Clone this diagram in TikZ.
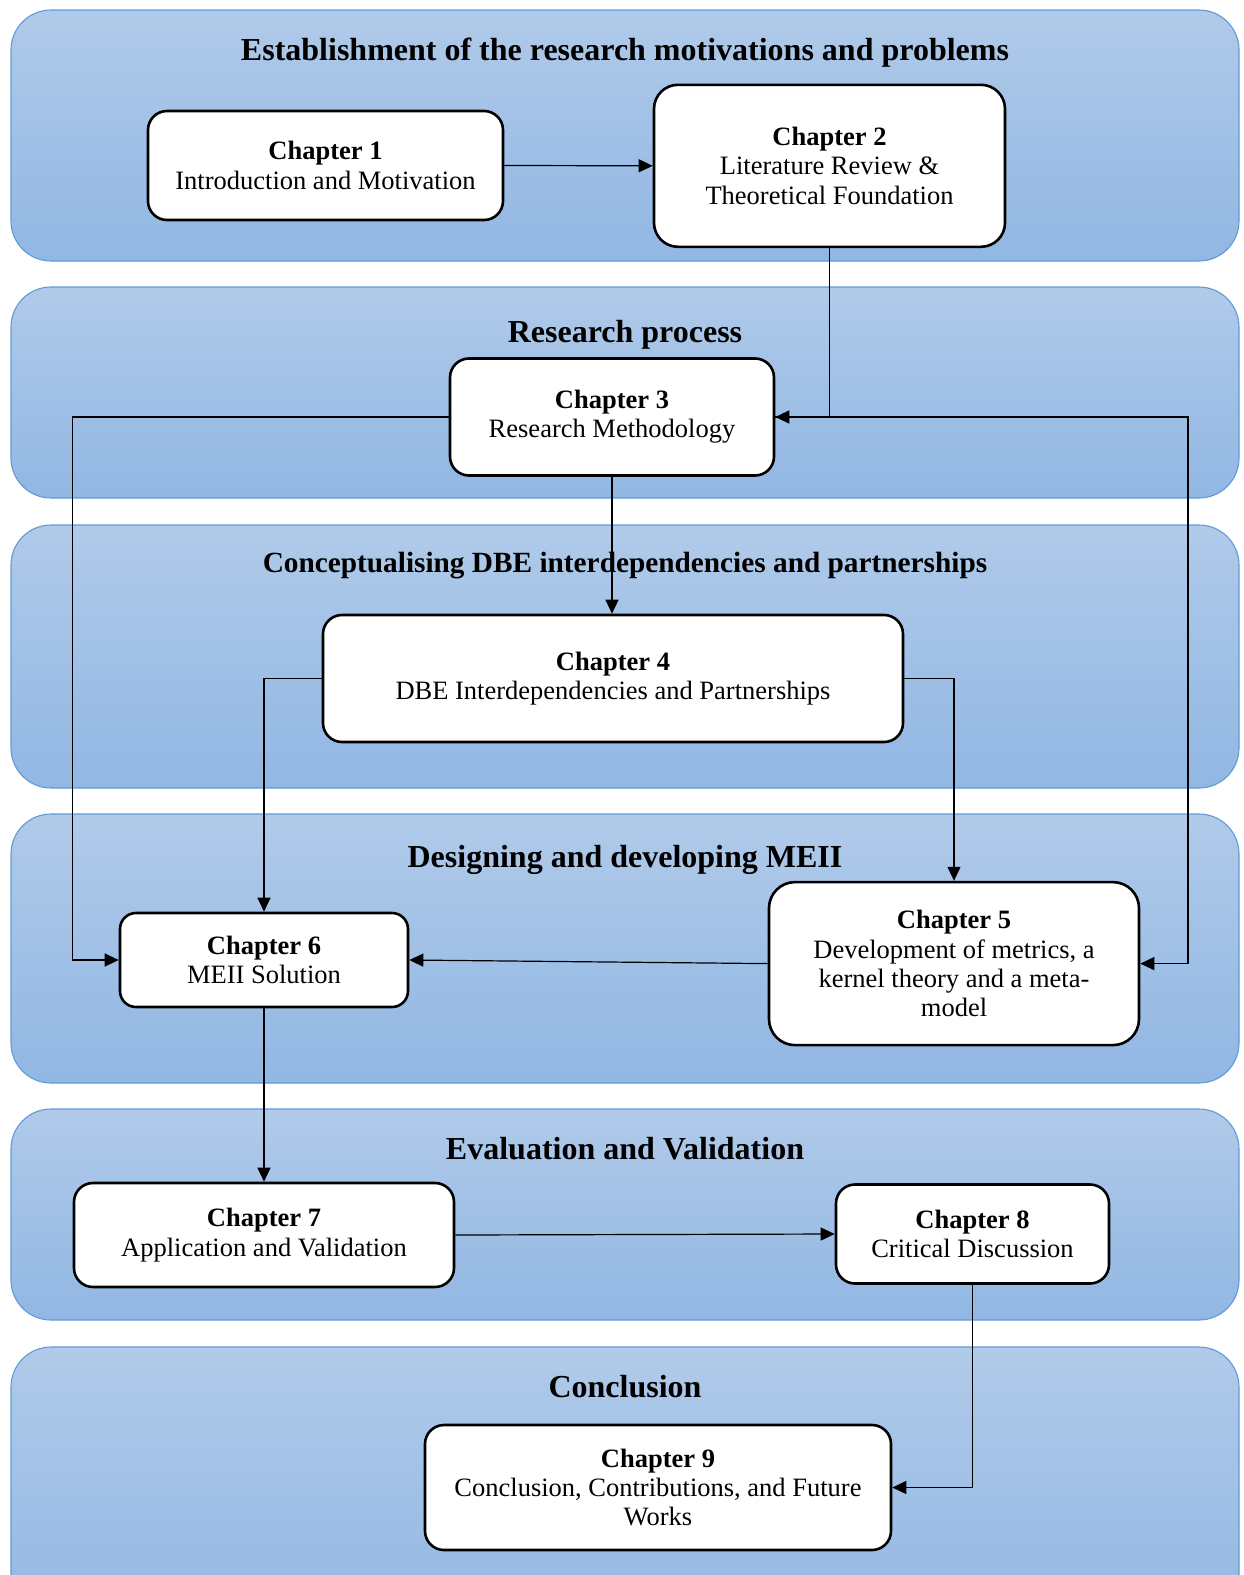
\documentclass[tikz,border=0pt]{standalone}
\usepackage{fontspec}
\setmainfont{Liberation Serif}
\usetikzlibrary{arrows.meta}

\definecolor{bandtop}{RGB}{176,202,233}
\definecolor{bandbot}{RGB}{145,183,227}
\definecolor{bandline}{RGB}{96,155,214}

\tikzset{
  band/.style={draw=bandline, line width=1.1pt, top color=bandtop, bottom color=bandbot, rounded corners=40pt},
  bandtitle/.style={font=\fontsize{32}{34}\selectfont\bfseries, inner sep=0pt},
  chapbox/.style={draw=black, line width=2.6pt, fill=white, rounded corners=19pt, align=center,
    font=\fontsize{26.5}{29.3}\selectfont, inner sep=0pt},
  link/.style={draw=black, line width=1.2pt, -{Triangle[length=14pt,width=13pt]}}
}

\begin{document}
\begin{tikzpicture}[x=1pt,y=-1pt]
\useasboundingbox (0,0) rectangle (1244,1575);
\clip (0,0) rectangle (1244,1575);

% horizontal stage bands
\path[band] (11,10) rectangle (1239,261);
\path[band] (11,287) rectangle (1239,498);
\path[band] (11,525) rectangle (1239,788);
\path[band] (11,814) rectangle (1239,1083);
\path[band] (11,1109) rectangle (1239,1320);
\path[band] (11,1347) rectangle (1239,1640);

% stage titles
\node[bandtitle] (t1) at (625,53) {Establishment of the research motivations and problems};
\node[bandtitle] (t2) at (625,335) {Research process};
\node[bandtitle, font=\fontsize{29.3}{32}\selectfont\bfseries] (t3) at (625,566) {Conceptualising DBE interdependencies and partnerships};
\node[bandtitle] (t4) at (625,860) {Designing and developing MEII};
\node[bandtitle] (t5) at (625,1149) {Evaluation and Validation};
\node[bandtitle] (t6) at (625,1387) {Conclusion};

% chapters
\node[chapbox, minimum width=355pt, minimum height=109pt] (ch1) at (325.5,165.5)
  {\textbf{Chapter 1}\\Introduction and Motivation};
\node[chapbox, minimum width=351pt, minimum height=162pt, rounded corners=24pt] (ch2) at (829.5,165.8)
  {\textbf{Chapter 2}\\Literature Review \&\\Theoretical Foundation};
\node[chapbox, minimum width=324pt, minimum height=117pt] (ch3) at (612,417)
  {\textbf{Chapter 3}\\Research Methodology};
\node[chapbox, minimum width=580pt, minimum height=127pt] (ch4) at (613,678.5)
  {\textbf{Chapter 4}\\DBE Interdependencies and Partnerships};
\node[chapbox, minimum width=370pt, minimum height=163pt, rounded corners=26pt] (ch5) at (954,963.6)
  {\textbf{Chapter 5}\\Development of metrics, a\\kernel theory and a meta-\\model};
\node[chapbox, minimum width=288pt, minimum height=94pt, rounded corners=16pt] (ch6) at (264,960)
  {\textbf{Chapter 6}\\MEII Solution};
\node[chapbox, minimum width=380pt, minimum height=104pt] (ch7) at (264,1235)
  {\textbf{Chapter 7}\\Application and Validation};
\node[chapbox, minimum width=273pt, minimum height=99pt] (ch8) at (972.5,1234)
  {\textbf{Chapter 8}\\Critical Discussion};
\node[chapbox, minimum width=466pt, minimum height=125pt] (ch9) at (658,1487.5)
  {\textbf{Chapter 9}\\Conclusion, Contributions, and Future\\Works};

% routing columns for the long side connectors
\coordinate (leftrail) at (72.3,0);
\coordinate (rightrail) at (1188,0);

% connectors
\draw[link] (ch1.east) -- (ch2.west);
\draw[link] (ch2.south) |- (ch3.east);
\draw[link] (ch3.east) -- (ch3.east -| rightrail) |- (ch5.east);
\draw[link] (ch3.west) -- (ch3.west -| leftrail) |- (ch6.west);
\draw[link] (ch3.south) -- (ch3.south |- ch4.north);
\draw[link] (ch4.west) -| (ch6.north);
\draw[link] (ch4.east) -| (ch5.north);
\draw[link] (ch5.west) -- (ch6.east);
\draw[link] (ch6.south) -- (ch6.south |- ch7.north);
\draw[link] (ch7.east) -- (ch8.west);
\draw[link] (ch8.south) |- (ch9.east);
\end{tikzpicture}
\end{document}
